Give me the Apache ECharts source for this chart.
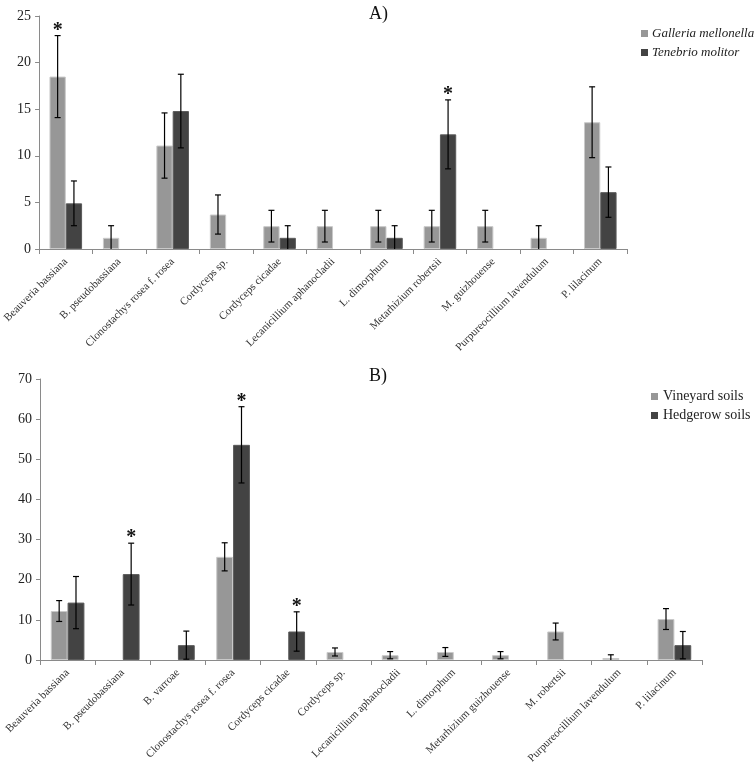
<!DOCTYPE html>
<html><head><meta charset="utf-8">
<script src="https://cdn.jsdelivr.net/npm/echarts@6/dist/echarts.min.js"></script>
<style>html,body{margin:0;padding:0;background:#fff}#c{width:756px;height:767px}</style>
</head><body><div id="c"></div>
<script>
// ---------- Panel A ----------
const catsA = ['Beauveria bassiana','B. pseudobassiana','Clonostachys rosea f. rosea','Cordyceps sp.','Cordyceps cicadae','Lecanicillium aphanocladii','L. dimorphum','Metarhizium robertsii','M. guizhouense','Purpureocillium lavendulum','P. lilacinum'];
const galleria    = [18.5, 1.2, 11.1, 3.7, 2.45, 2.45, 2.45, 2.45, 2.45, 1.2, 13.6];
const galleriaErr = [4.4, 1.3, 3.5, 2.1, 1.7, 1.7, 1.7, 1.7, 1.7, 1.3, 3.8];
const galleriaSig = [1, 0, 0, 0, 0, 0, 0, 0, 0, 0, 0];
const tenebrio    = [4.9, null, 14.8, null, 1.2, null, 1.2, 12.3, null, null, 6.1];
const tenebrioErr = [2.4, null, 3.95, null, 1.3, null, 1.3, 3.7, null, null, 2.7];
const tenebrioSig = [0, 0, 0, 0, 0, 0, 0, 1, 0, 0, 0];
const ticksA = {min: 0, max: 25, interval: 5};

// ---------- Panel B ----------
const catsB = ['Beauveria bassiana','B. pseudobassiana','B. varroae','Clonostachys rosea f. rosea','Cordyceps cicadae','Cordyceps sp.','Lecanicillium aphanocladii','L. dimorphum','Metarhizium guizhouense','M. robertsii','Purpureocillium lavendulum','P. lilacinum'];
const vineyard     = [12.2, null, null, 25.7, null, 2.0, 1.2, 2.0, 1.2, 7.1, 0.5, 10.2];
const vineyardErr  = [2.6, null, null, 3.5, null, 1.0, 0.9, 1.1, 0.9, 2.1, 0.8, 2.6];
const vineyardSig  = [0, 0, 0, 0, 0, 0, 0, 0, 0, 0, 0, 0];
const hedgerow     = [14.3, 21.4, 3.7, 53.6, 7.1, null, null, null, null, null, null, 3.7];
const hedgerowErr  = [6.5, 7.7, 3.5, 9.5, 4.9, null, null, null, null, null, null, 3.4];
const hedgerowSig  = [0, 1, 0, 1, 1, 0, 0, 0, 0, 0, 0, 0];
const ticksB = {min: 0, max: 70, interval: 10};

const LIGHT = '#979797', DARK = '#434343';
const GAP = 0.39;
const FONT = 'Liberation Serif';

function errSeries(name, vals, errs, sigs, side, axisIdx) {
  const data = [];
  vals.forEach((v, i) => { if (v != null) data.push([i, v, errs[i], sigs[i]]); });
  return {
    type: 'custom', name: name + ' err', xAxisIndex: axisIdx, yAxisIndex: axisIdx, z: 5,
    silent: true, legendHoverLink: false,
    encode: {x: 0, y: 1},
    data: data,
    renderItem: function (params, api) {
      const i = api.value(0), v = api.value(1), e = api.value(2), s = api.value(3);
      const band = api.size([1, 0])[0];
      const bw = band * (1 - GAP) / 2;
      const x = api.coord([i, v])[0] + side * bw / 2;
      const hi = api.coord([i, v + e])[1];
      const loV = Math.max(0, v - e);
      const lo = api.coord([i, loV])[1];
      const st = {stroke: '#000', lineWidth: 1.2};
      const ch = [
        {type: 'line', shape: {x1: x, y1: hi, x2: x, y2: lo}, style: st},
        {type: 'line', shape: {x1: x - 3, y1: hi, x2: x + 3, y2: hi}, style: st}
      ];
      if (v - e > 0) ch.push({type: 'line', shape: {x1: x - 3, y1: lo, x2: x + 3, y2: lo}, style: st});
      if (s) ch.push({type: 'text', style: {text: '*', x: x, y: hi - 5, align: 'center', verticalAlign: 'middle',
        fontSize: 20, fontWeight: 'bold', fontFamily: FONT, fill: '#111'}});
      return {type: 'group', children: ch};
    }
  };
}

function barSeries(name, vals, color, axisIdx) {
  return {
    type: 'bar', name: name, xAxisIndex: axisIdx, yAxisIndex: axisIdx,
    data: vals, barGap: '0%', barCategoryGap: (GAP * 100) + '%',
    itemStyle: {color: color, borderColor: color === LIGHT ? '#c9c9c9' : '#5a5a5a', borderWidth: 1},
    emphasis: {disabled: true}
  };
}

const xAxisCommon = {
  type: 'category',
  axisLine: {lineStyle: {color: '#8a8a8a', width: 1}},
  axisTick: {show: true, length: 5, lineStyle: {color: '#8a8a8a'}},
  axisLabel: {rotate: 45, fontSize: 11, fontFamily: FONT, color: '#333', margin: 11, interval: 0}
};
const yAxisCommon = {
  type: 'value',
  axisLine: {show: true, lineStyle: {color: '#8a8a8a', width: 1}},
  axisTick: {show: true, length: 4, lineStyle: {color: '#8a8a8a'}},
  splitLine: {show: false},
  axisLabel: {fontSize: 14, fontFamily: FONT, color: '#222', margin: 8}
};

const option = {
  animation: false,
  backgroundColor: '#fff',
  title: [
    {text: 'A)', left: 364, top: 0, textStyle: {fontSize: 18, fontWeight: 'normal', fontFamily: FONT, color: '#111'}},
    {text: 'B)', left: 364, top: 362, textStyle: {fontSize: 18, fontWeight: 'normal', fontFamily: FONT, color: '#111'}}
  ],
  legend: [
    {orient: 'vertical', left: 641, top: 27, padding: 0, itemWidth: 7, itemHeight: 7, itemGap: 6, icon: 'rect',
      itemStyle: {borderWidth: 0},
      data: ['Galleria mellonella', 'Tenebrio molitor'],
      textStyle: {fontSize: 13, fontStyle: 'italic', fontFamily: FONT, color: '#222', padding: [0, 0, 0, -1]}},
    {orient: 'vertical', left: 651, top: 389.5, padding: 0, itemWidth: 7, itemHeight: 7, itemGap: 5, icon: 'rect',
      itemStyle: {borderWidth: 0},
      data: ['Vineyard soils', 'Hedgerow soils'],
      textStyle: {fontSize: 14, fontFamily: FONT, color: '#222'}}
  ],
  grid: [
    {left: 38, top: 16, width: 589, height: 233, containLabel: false},
    {left: 40, top: 379, width: 662, height: 281, containLabel: false}
  ],
  xAxis: [
    Object.assign({}, xAxisCommon, {gridIndex: 0, data: catsA}),
    Object.assign({}, xAxisCommon, {gridIndex: 1, data: catsB})
  ],
  yAxis: [
    Object.assign({}, yAxisCommon, {gridIndex: 0}, ticksA),
    Object.assign({}, yAxisCommon, {gridIndex: 1}, ticksB)
  ],
  series: [
    barSeries('Galleria mellonella', galleria, LIGHT, 0),
    barSeries('Tenebrio molitor', tenebrio, DARK, 0),
    errSeries('Galleria mellonella', galleria, galleriaErr, galleriaSig, -1, 0),
    errSeries('Tenebrio molitor', tenebrio, tenebrioErr, tenebrioSig, 1, 0),
    barSeries('Vineyard soils', vineyard, LIGHT, 1),
    barSeries('Hedgerow soils', hedgerow, DARK, 1),
    errSeries('Vineyard soils', vineyard, vineyardErr, vineyardSig, -1, 1),
    errSeries('Hedgerow soils', hedgerow, hedgerowErr, hedgerowSig, 1, 1)
  ]
};
const chart = echarts.init(document.getElementById('c'), null, {renderer: 'canvas'});
chart.setOption(option);
</script>
</body></html>
